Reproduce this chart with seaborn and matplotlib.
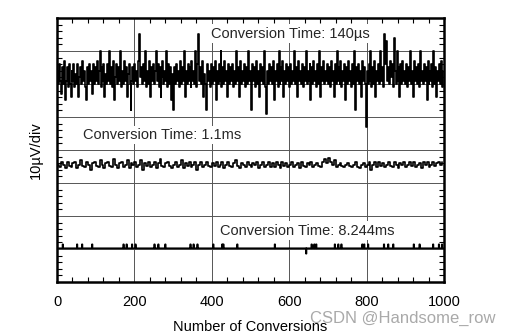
import numpy as np
import pandas as pd
import matplotlib
matplotlib.use("Agg")
import matplotlib.pyplot as plt
import seaborn as sns
from matplotlib.ticker import MultipleLocator

# ---------------- data (µV) ----------------
x_ticks = [0, 200, 400, 600, 800, 1000]
labels = ["Conversion Time: 140\u00b5s", "Conversion Time: 1.1ms", "Conversion Time: 8.244ms"]

# 140 µs trace, one value every 2.5 conversions
step_140 = 2.5
trace_140us = [
    64, 60, 66, 61, 57, 65, 60, 67, 55, 61, 65, 59, 66, 60, 56, 64, 61, 66, 59, 63,
    60, 66, 56, 62, 65, 60, 67, 61, 64, 59, 55, 65, 60, 66, 61, 64, 57, 66, 60, 65,
    61, 67, 60, 64, 70, 59, 65, 61, 66, 56, 63, 60, 66, 61, 70, 60, 65, 59, 67, 55,
    62, 66, 60, 65, 61, 70, 59, 64, 60, 67, 61, 65, 56, 63, 66, 60, 52, 61, 65, 60,
    66, 61, 64, 59, 67, 75, 62, 65, 60, 66, 61, 70, 59, 64, 60, 67, 56, 65, 61, 66,
    60, 64, 70, 61, 66, 59, 65, 56, 62, 67, 60, 64, 61, 70, 59, 66, 60, 65, 55, 63,
    52, 65, 60, 66, 61, 64, 59, 67, 60, 65, 61, 70, 56, 64, 60, 66, 61, 65, 59, 67,
    61, 64, 60, 70, 59, 66, 75, 61, 65, 60, 67, 56, 63, 60, 52, 66, 61, 64, 59, 66,
    60, 65, 61, 67, 55, 64, 60, 66, 61, 70, 59, 65, 60, 67, 61, 64, 56, 66, 60, 65,
    61, 66, 59, 64, 60, 70, 61, 65, 56, 67, 60, 64, 61, 66, 59, 65, 60, 70, 61, 64,
    60, 52, 66, 61, 65, 59, 67, 60, 64, 56, 66, 61, 65, 60, 70, 59, 51, 64, 60, 66,
    61, 65, 60, 67, 55, 64, 61, 66, 59, 70, 60, 65, 61, 67, 56, 64, 60, 66, 61, 65,
    59, 66, 60, 64, 61, 70, 60, 65, 56, 67, 61, 64, 60, 66, 59, 65, 61, 70, 60, 64,
    61, 66, 55, 65, 60, 67, 61, 64, 59, 66, 60, 70, 56, 65, 61, 67, 60, 64, 61, 66,
    60, 65, 59, 67, 61, 64, 56, 66, 60, 70, 61, 65, 60, 67, 59, 64, 61, 66, 55, 65,
    60, 67, 61, 64, 59, 66, 60, 70, 52, 65, 61, 66, 60, 64, 56, 67, 61, 65, 60, 47,
    64, 60, 66, 61, 70, 59, 65, 60, 67, 56, 64, 61, 66, 60, 70, 61, 65, 59, 75, 66,
    73, 61, 65, 60, 67, 62, 66, 59, 74, 64, 60, 70, 61, 65, 56, 66, 60, 67, 61, 64,
    60, 66, 59, 65, 61, 70, 60, 64, 56, 67, 61, 65, 60, 66, 59, 70, 61, 64, 60, 66,
    61, 65, 55, 67, 60, 64, 61, 66, 59, 70, 60, 65, 56, 64, 61, 66, 60, 67, 59, 64,
]

# 1.1 ms trace, one value every 5 conversions
step_11 = 5
trace_1_1ms = [
    35.5, 34.8, 36.3, 35.5, 34.5, 36.5, 35.3, 34.8, 36.0, 36.5, 34.6, 35.5, 37.0, 35.3, 34.8, 36.3, 35.5, 34.0, 36.0, 36.5,
    35.3, 34.8, 37.0, 35.5, 34.5, 36.0, 36.5, 35.3, 34.8, 37.3, 35.5, 34.5, 36.0, 36.5, 34.8, 35.5, 37.0, 34.5, 36.0, 35.5,
    36.3, 34.8, 35.5, 37.0, 34.0, 36.0, 35.3, 36.5, 34.8, 35.5, 36.5, 34.5, 36.0, 37.3, 35.3, 34.8, 36.0, 36.5, 35.3, 34.5,
    35.5, 36.5, 34.8, 35.5, 37.0, 34.5, 36.0, 35.3, 36.3, 34.8, 35.5, 36.5, 34.0, 35.5, 36.3, 34.8, 35.5, 36.5, 35.3, 34.8,
    36.0, 35.3, 36.5, 34.8, 35.5, 36.3, 34.5, 35.5, 36.5, 35.3, 34.8, 36.0, 37.0, 35.3, 34.5, 36.0, 35.5, 34.8, 36.3, 35.5,
    34.8, 36.0, 35.5, 36.5, 34.5, 35.5, 36.3, 34.8, 35.5, 36.5, 35.0, 36.0, 34.8, 36.5, 35.5, 34.5, 36.3, 35.3, 36.0, 34.8,
    35.5, 36.3, 34.8, 35.5, 36.0, 34.5, 36.5, 35.3, 34.8, 36.0, 35.5, 36.5, 34.8, 35.5, 36.0, 35.3, 34.8, 36.3, 37.3, 36.0,
    37.5, 36.3, 35.5, 37.0, 34.8, 35.5, 36.0, 35.3, 34.8, 35.5, 36.0, 35.3, 34.8, 35.5, 36.3, 35.0, 34.5, 35.5, 36.0, 34.8,
    35.5, 36.5, 34.0, 35.5, 36.3, 34.8, 36.5, 35.3, 36.0, 34.8, 35.5, 36.5, 35.3, 34.8, 36.3, 35.5, 34.5, 36.0, 35.5, 36.5,
    34.8, 35.5, 36.3, 35.3, 36.5, 34.8, 35.5, 36.0, 34.5, 36.3, 35.5, 36.5, 34.8, 35.5, 36.3, 35.3, 36.0, 36.5, 35.5, 36.3,
]

# 8.244 ms trace: flat line with a few one-code blips
n_conv = 1000
level_8244 = 10.2
blip_pos = [15, 52, 65, 91, 172, 180, 194, 203, 252, 262, 280, 345, 353, 363, 404, 427,
            430, 466, 563, 644, 658, 665, 670, 718, 727, 735, 789, 794, 804, 845, 856,
            869, 922, 937, 972, 987, 995]
blip_val = [11.4] * 19 + [8.6] + [11.4] * 17

# ---------------- build tables ----------------
df140 = pd.DataFrame({"n": np.arange(len(trace_140us)) * step_140, "uv": trace_140us})
df11 = pd.DataFrame({"n": np.arange(len(trace_1_1ms)) * step_11, "uv": trace_1_1ms})
y8 = np.full(n_conv, level_8244)
y8[blip_pos] = blip_val
df8 = pd.DataFrame({"n": np.arange(n_conv), "uv": y8})

# ---------------- plot ----------------
sns.set_theme(style="white")
plt.rcParams["font.family"] = ["Liberation Sans", "DejaVu Sans"]

fig = plt.figure(figsize=(5.14, 3.36), dpi=100)
ax = fig.add_axes([57 / 514, 54 / 336, 387 / 514, 264 / 336])

ax.set_xlim(0, 1000)
ax.set_ylim(0, 80)
ax.set_xticks(x_ticks)
ax.set_xticklabels([str(v) for v in x_ticks], fontsize=10.5)
ax.set_yticks(np.arange(0, 81, 10))
ax.set_yticklabels([])
ax.xaxis.set_minor_locator(MultipleLocator(40))
ax.yaxis.set_minor_locator(MultipleLocator(2))
ax.tick_params(which="major", length=0, pad=9, colors="black")
ax.tick_params(which="minor", direction="in", length=3.5, width=0.8,
               top=True, bottom=True, left=True, right=True, color="black")
ax.grid(True, which="major", color="#555555", linewidth=0.7)
ax.set_axisbelow(True)
for s in ax.spines.values():
    s.set_color("black")
    s.set_linewidth(1.8)

sns.lineplot(data=df140, x="n", y="uv", ax=ax, color="black", linewidth=1.2,
             estimator=None, sort=False, drawstyle="steps-post")
sns.lineplot(data=df11, x="n", y="uv", ax=ax, color="black", linewidth=1.2,
             estimator=None, sort=False, drawstyle="steps-post")
sns.lineplot(data=df8, x="n", y="uv", ax=ax, color="black", linewidth=1.3,
             estimator=None, sort=False, drawstyle="steps-mid")

box = dict(facecolor="white", edgecolor="none", pad=1.5)
ax.text(397, 75.3, labels[0], fontsize=10.5, va="center", ha="left", bbox=box, zorder=5)
ax.text(68, 44.5, labels[1], fontsize=10.5, va="center", ha="left", bbox=box, zorder=5)
ax.text(422, 15.6, labels[2], fontsize=10.5, va="center", ha="left", bbox=box, zorder=5)

ax.set_xlabel("Number of Conversions", fontsize=10.5, labelpad=8, color="black")
ax.set_ylabel("10\u00b5V/div", fontsize=10.5, labelpad=1, color="black")

fig.text(310 / 514, 1 - 318 / 336, "CSDN @Handsome_row", fontsize=12,
         color="#a0a0a0", ha="left", va="center", alpha=0.9)

fig.savefig("out.png", dpi=100)
